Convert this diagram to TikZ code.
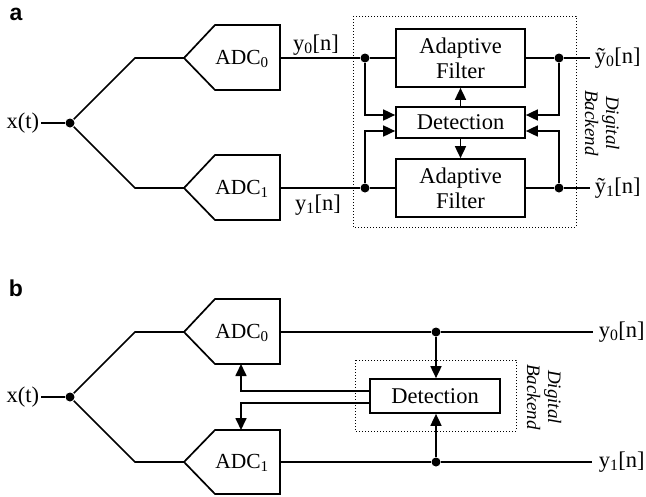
\documentclass[tikz,border=0pt]{standalone}
\usepackage{fontspec}
\setmainfont{Liberation Serif}
\setsansfont{Liberation Sans}
\usetikzlibrary{arrows.meta}
\begin{document}
\begin{tikzpicture}[x=1pt,y=-1pt,line width=1.7pt,
  txt/.style={inner sep=1pt,font=\fontsize{22.5}{26}\selectfont},
  blk/.style={draw,rectangle,inner sep=1pt,align=center,font=\fontsize{22.5}{25}\selectfont},
  dotj/.style={circle,fill,inner sep=0pt,minimum size=9pt},
  arr/.style={-{Triangle[length=12pt,width=11pt]}},
  adctxt/.style={inner sep=0pt,font=\fontsize{21.5}{24}\selectfont},
  bkend/.style={rotate=-90,align=center,inner sep=0pt,font=\fontsize{19}{21}\selectfont\itshape},
  bound/.style={draw,line width=1pt,dash pattern=on 1pt off 2pt},
  pl/.style={inner sep=0pt,font=\fontsize{23}{25}\selectfont\sffamily\bfseries}]
\useasboundingbox (0,0) rectangle (646,496);

% ---------------- panel a ----------------
\node[pl] at (16,14) {a};
\node[txt,anchor=east] (xta) at (41,123) {x(t)};
\node[dotj] (sa) at (70,123) {};
\draw (xta) -- (sa);

% converters
\coordinate (a0tip) at (184,58);
\coordinate (a1tip) at (184,188);
\draw (a0tip) -- ++(31,-33) -- ++(65,0) -- ++(0,65) -- ++(-65,0) -- cycle;
\draw (a1tip) -- ++(31,-33) -- ++(65,0) -- ++(0,65) -- ++(-65,0) -- cycle;
\node[adctxt] (a0t) at (242,59) {ADC\textsubscript{0}};
\node[adctxt] (a1t) at (242,189) {ADC\textsubscript{1}};
\coordinate (a0out) at (280,58);
\coordinate (a1out) at (280,188);
\coordinate (u0) at (135,58);
\coordinate (l0) at (135,188);
\draw (sa) -- (u0) -- (a0tip);
\draw (sa) -- (l0) -- (a1tip);

% digital backend
\draw[bound] (353,16) rectangle (576,227);
\node[blk,minimum width=129pt,minimum height=58pt] (f0) at (460.5,58) {Adaptive\\Filter};
\node[blk,minimum width=129pt,minimum height=31pt] (det) at (460.5,122.5) {Detection};
\node[blk,minimum width=129pt,minimum height=58pt] (f1) at (460.5,188) {Adaptive\\Filter};
\node[dotj] (jl0) at (365,58) {};
\node[dotj] (jl1) at (365,188) {};
\node[dotj] (jr0) at (559,58) {};
\node[dotj] (jr1) at (559,188) {};
\coordinate (o0) at (590,58);
\coordinate (o1) at (590,188);

\draw (a0out) -- (jl0) -- (f0);
\draw (a1out) -- (jl1) -- (f1);
\draw (f0) -- (jr0) -- (o0);
\draw (f1) -- (jr1) -- (o1);
\draw[arr] (jl0) |- ([yshift=7.5pt]det.west);
\draw[arr] (jl1) |- ([yshift=-8.5pt]det.west);
\draw[arr] (jr0) |- ([yshift=7.5pt]det.east);
\draw[arr] (jr1) |- ([yshift=-8.5pt]det.east);
\draw[arr] (det.north) -- (f0.south);
\draw[arr] (det.south) -- (f1.north);

\node[txt] (y0a) at (316,45) {y\textsubscript{0}[n]};
\node[txt] (y1a) at (318,205) {y\textsubscript{1}[n]};
\node[txt,anchor=west] (yt0) at (593,58) {ỹ\textsubscript{0}[n]};
\node[txt,anchor=west] (yt1) at (593,188) {ỹ\textsubscript{1}[n]};
\node[bkend] (dba) at (602,123) {Digital\\Backend};

% ---------------- panel b ----------------
\node[pl] at (16,288) {b};
\node[txt,anchor=east] (xtb) at (41,397) {x(t)};
\node[dotj] (sb) at (70,397) {};
\draw (xtb) -- (sb);

\coordinate (b0tip) at (184,332);
\coordinate (b1tip) at (184,462);
\draw (b0tip) -- ++(31,-33) -- ++(65,0) -- ++(0,65) -- ++(-65,0) -- cycle;
\draw (b1tip) -- ++(31,-32) -- ++(65,0) -- ++(0,64) -- ++(-65,0) -- cycle;
\node[adctxt] (b0t) at (242,333) {ADC\textsubscript{0}};
\node[adctxt] (b1t) at (242,463) {ADC\textsubscript{1}};
\coordinate (b0out) at (280,332);
\coordinate (b1out) at (280,462);
\coordinate (b0bot) at (241,364);
\coordinate (b1top) at (241,430);
\coordinate (u1) at (135,332);
\coordinate (l1) at (135,462);
\draw (sb) -- (u1) -- (b0tip);
\draw (sb) -- (l1) -- (b1tip);

\draw[bound] (355,360) rectangle (516,431);
\node[blk,minimum width=130pt,minimum height=34pt] (detb) at (435,396) {Detection};
\node[dotj] (jb0) at (436,332) {};
\node[dotj] (jb1) at (436,462) {};
\coordinate (ob0) at (593,332);
\coordinate (ob1) at (592,462);

\draw (b0out) -- (jb0) -- (ob0);
\draw (b1out) -- (jb1) -- (ob1);
\draw[arr] (jb0) -- (jb0 |- detb.north);
\draw[arr] (jb1) -- (jb1 |- detb.south);
\draw[arr] ([yshift=5pt]detb.west) -| (b0bot);
\draw[arr] ([yshift=-7pt]detb.west) -| (b1top);

\node[txt,anchor=west] (y0b) at (597,332) {y\textsubscript{0}[n]};
\node[txt,anchor=west] (y1b) at (597,462) {y\textsubscript{1}[n]};
\node[bkend] (dbb) at (544,397) {Digital\\Backend};
\end{tikzpicture}
\end{document}
